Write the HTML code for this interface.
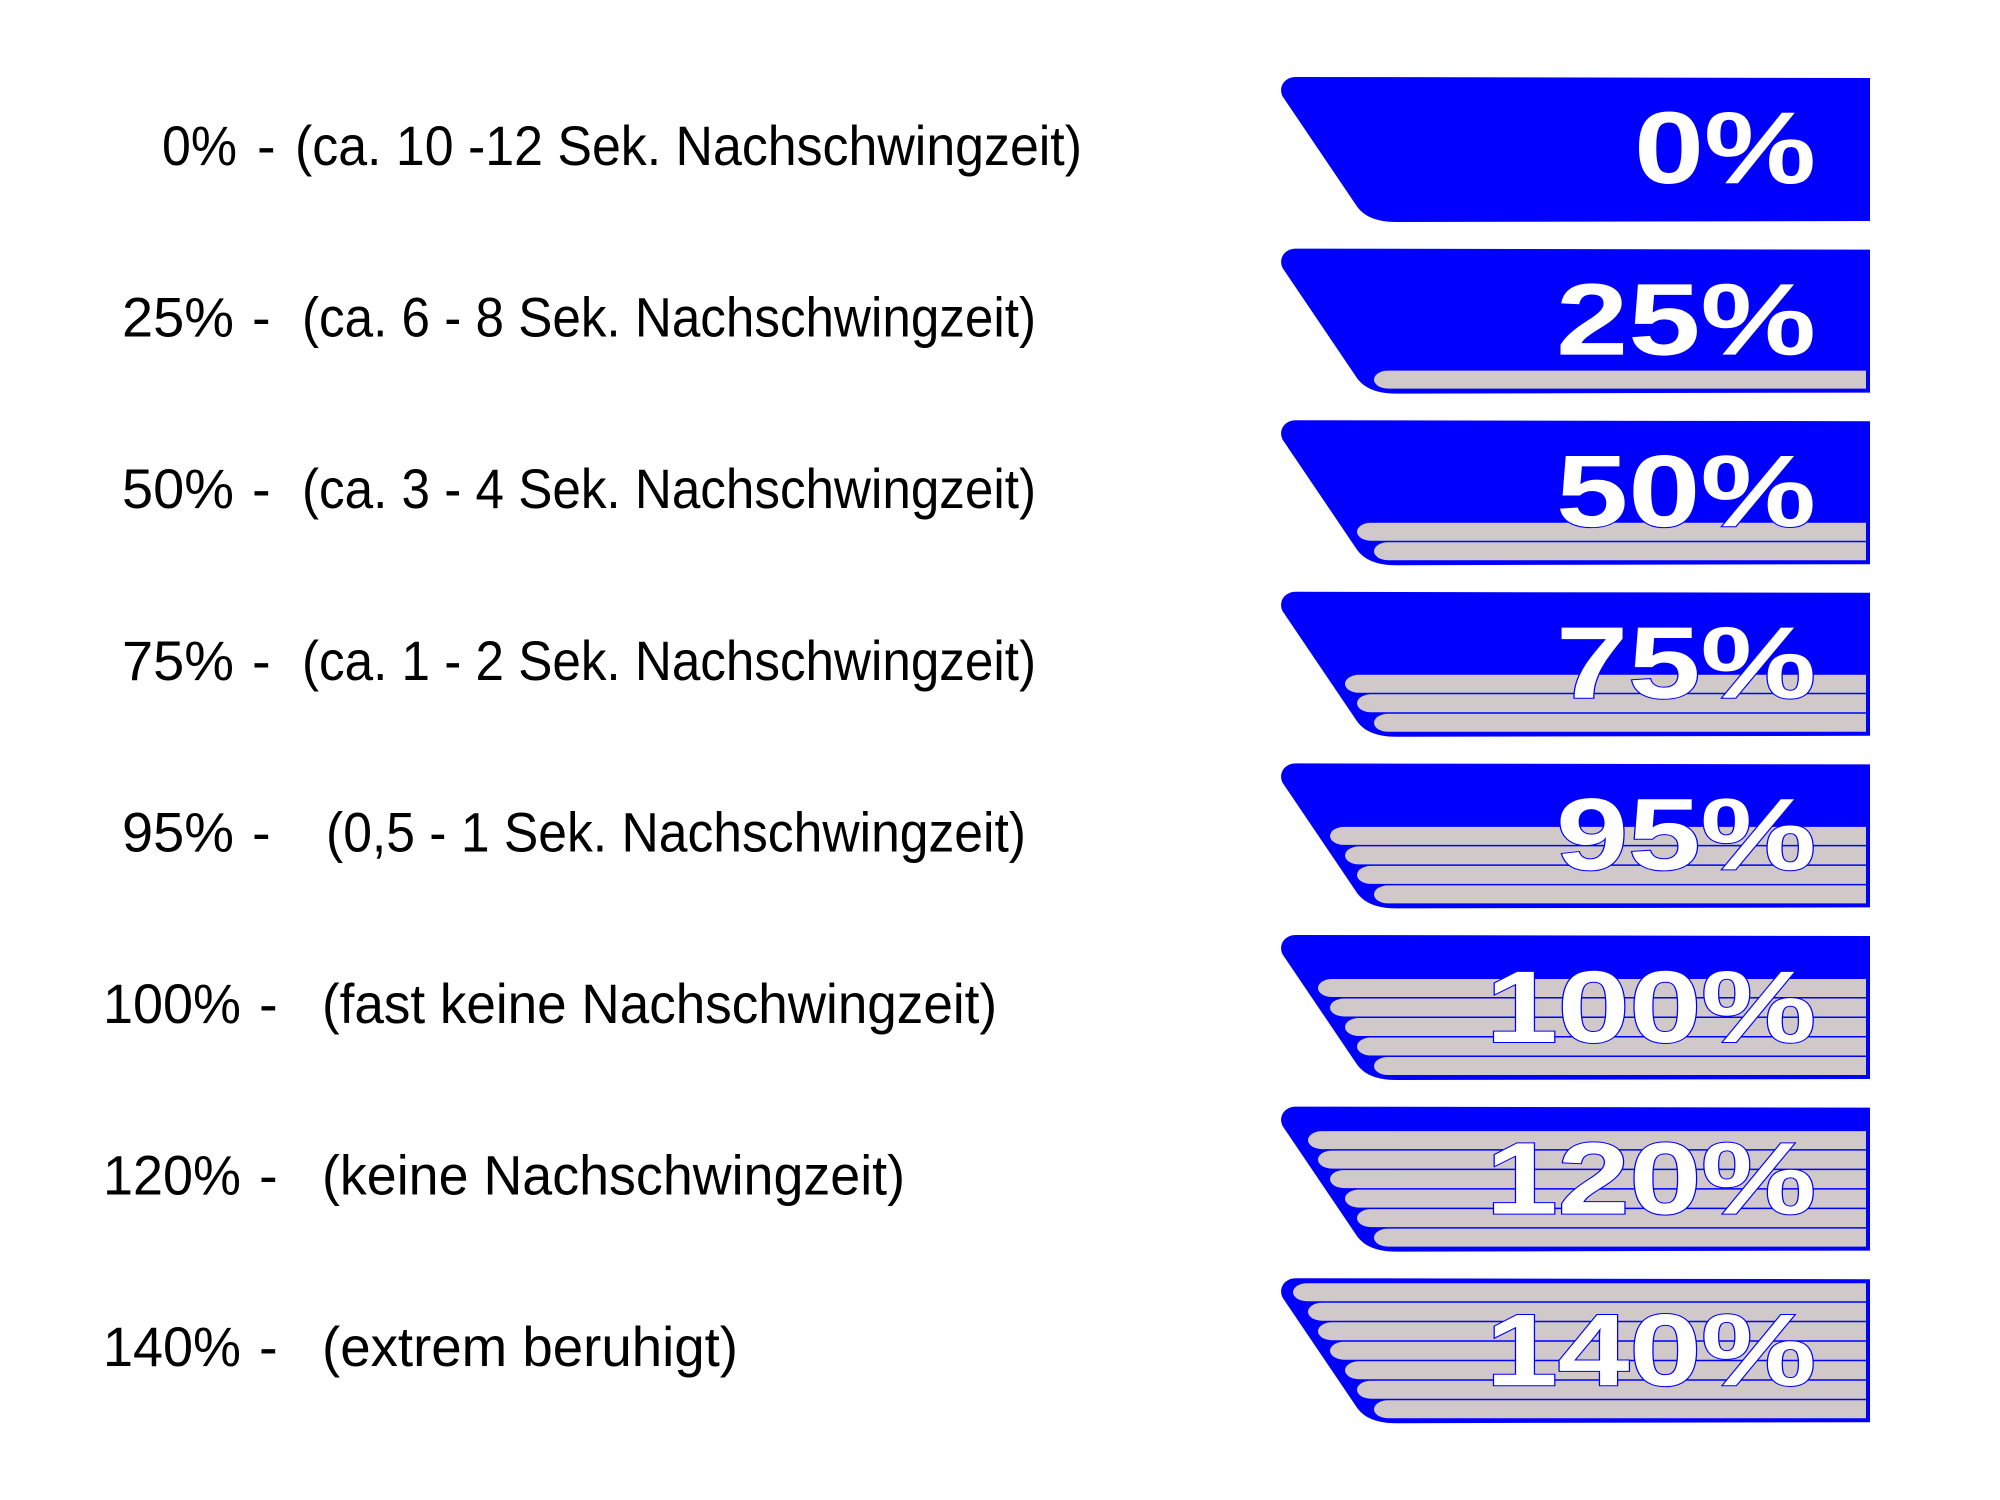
<!DOCTYPE html>
<html><head><meta charset="utf-8"><style>
html,body{margin:0;padding:0;background:#fff;}
svg{display:block;}
</style></head><body>
<svg width="2000" height="1500" viewBox="0 0 2000 1500" xmlns="http://www.w3.org/2000/svg">
<defs>
<path id="sh" d="M1296,77 L1870,78 L1870,221 L1396,222 C1376,222 1363,216 1356,205 L1283,97 C1278,89 1283,77 1296,77 Z"/>
<path id="b0" d="M1388,199 H1866 V217 H1388 A14,9 0 0 1 1388,199 Z"/>
<path id="b1" d="M1371,179.5 H1866 V197.5 H1371 A14,9 0 0 1 1371,179.5 Z"/>
<path id="b2" d="M1359,160 H1866 V178 H1359 A14,9 0 0 1 1359,160 Z"/>
<path id="b3" d="M1344,140.5 H1866 V158.5 H1344 A14,9 0 0 1 1344,140.5 Z"/>
<path id="b4" d="M1332,121 H1866 V139 H1332 A14,9 0 0 1 1332,121 Z"/>
<path id="b5" d="M1322,101.5 H1866 V119.5 H1322 A14,9 0 0 1 1322,101.5 Z"/>
<path id="b6" d="M1307,82 H1866 V100 H1307 A14,9 0 0 1 1307,82 Z"/>
</defs>
<rect width="2000" height="1500" fill="#fff"/>
<g font-family="'Liberation Sans', sans-serif" font-size="56" fill="#000">
<text x="162" y="165" textLength="75" lengthAdjust="spacingAndGlyphs">0%</text>
<text x="257" y="165">-</text>
<text x="295" y="165" textLength="787" lengthAdjust="spacingAndGlyphs">(ca. 10 -12 Sek. Nachschwingzeit)</text>
<text x="122" y="336.6" textLength="112" lengthAdjust="spacingAndGlyphs">25%</text>
<text x="252" y="336.6">-</text>
<text x="302" y="336.6" textLength="734" lengthAdjust="spacingAndGlyphs">(ca. 6 - 8 Sek. Nachschwingzeit)</text>
<text x="122" y="508.2" textLength="112" lengthAdjust="spacingAndGlyphs">50%</text>
<text x="252" y="508.2">-</text>
<text x="302" y="508.2" textLength="734" lengthAdjust="spacingAndGlyphs">(ca. 3 - 4 Sek. Nachschwingzeit)</text>
<text x="122" y="679.8" textLength="112" lengthAdjust="spacingAndGlyphs">75%</text>
<text x="252" y="679.8">-</text>
<text x="302" y="679.8" textLength="734" lengthAdjust="spacingAndGlyphs">(ca. 1 - 2 Sek. Nachschwingzeit)</text>
<text x="122" y="851.4" textLength="112" lengthAdjust="spacingAndGlyphs">95%</text>
<text x="252" y="851.4">-</text>
<text x="326" y="851.4" textLength="700" lengthAdjust="spacingAndGlyphs">(0,5 - 1 Sek. Nachschwingzeit)</text>
<text x="103" y="1023" textLength="138" lengthAdjust="spacingAndGlyphs">100%</text>
<text x="259" y="1023">-</text>
<text x="322" y="1023" textLength="675" lengthAdjust="spacingAndGlyphs">(fast keine Nachschwingzeit)</text>
<text x="103" y="1194.6" textLength="138" lengthAdjust="spacingAndGlyphs">120%</text>
<text x="259" y="1194.6">-</text>
<text x="322" y="1194.6" textLength="583" lengthAdjust="spacingAndGlyphs">(keine Nachschwingzeit)</text>
<text x="103" y="1366.2" textLength="138" lengthAdjust="spacingAndGlyphs">140%</text>
<text x="259" y="1366.2">-</text>
<text x="322" y="1366.2" textLength="416" lengthAdjust="spacingAndGlyphs">(extrem beruhigt)</text>
</g>

<g fill="#0000ff">
<use href="#sh"/>
<use href="#sh" transform="translate(0,171.6)"/>
<use href="#sh" transform="translate(0,343.2)"/>
<use href="#sh" transform="translate(0,514.8)"/>
<use href="#sh" transform="translate(0,686.4)"/>
<use href="#sh" transform="translate(0,858)"/>
<use href="#sh" transform="translate(0,1029.6)"/>
<use href="#sh" transform="translate(0,1201.2)"/>
</g>

<g fill="#d1c9c9">
<g transform="translate(0,171.6)"><use href="#b0"/></g>
<g transform="translate(0,343.2)"><use href="#b0"/><use href="#b1"/></g>
<g transform="translate(0,514.8)"><use href="#b0"/><use href="#b1"/><use href="#b2"/></g>
<g transform="translate(0,686.4)"><use href="#b0"/><use href="#b1"/><use href="#b2"/><use href="#b3"/></g>
<g transform="translate(0,858)"><use href="#b0"/><use href="#b1"/><use href="#b2"/><use href="#b3"/><use href="#b4"/></g>
<g transform="translate(0,1029.6)"><use href="#b0"/><use href="#b1"/><use href="#b2"/><use href="#b3"/><use href="#b4"/><use href="#b5"/></g>
<g transform="translate(0,1201.2)"><use href="#b0"/><use href="#b1"/><use href="#b2"/><use href="#b3"/><use href="#b4"/><use href="#b5"/><use href="#b6"/></g>
</g>

<g font-family="'Liberation Sans', sans-serif" font-weight="bold" font-size="102" fill="#fff" stroke="#0000ff" stroke-width="2" paint-order="stroke">
<text x="1634" y="183" textLength="182" lengthAdjust="spacingAndGlyphs">0%</text>
<text x="1556" y="354.6" textLength="260" lengthAdjust="spacingAndGlyphs">25%</text>
<text x="1556" y="526.2" textLength="260" lengthAdjust="spacingAndGlyphs">50%</text>
<text x="1556" y="697.8" textLength="260" lengthAdjust="spacingAndGlyphs">75%</text>
<text x="1556" y="869.4" textLength="260" lengthAdjust="spacingAndGlyphs">95%</text>
<text x="1486" y="1042" textLength="330" lengthAdjust="spacingAndGlyphs">100%</text>
<text x="1486" y="1213.6" textLength="330" lengthAdjust="spacingAndGlyphs">120%</text>
<text x="1486" y="1385.2" textLength="330" lengthAdjust="spacingAndGlyphs">140%</text>
</g>
</svg>
</body></html>
